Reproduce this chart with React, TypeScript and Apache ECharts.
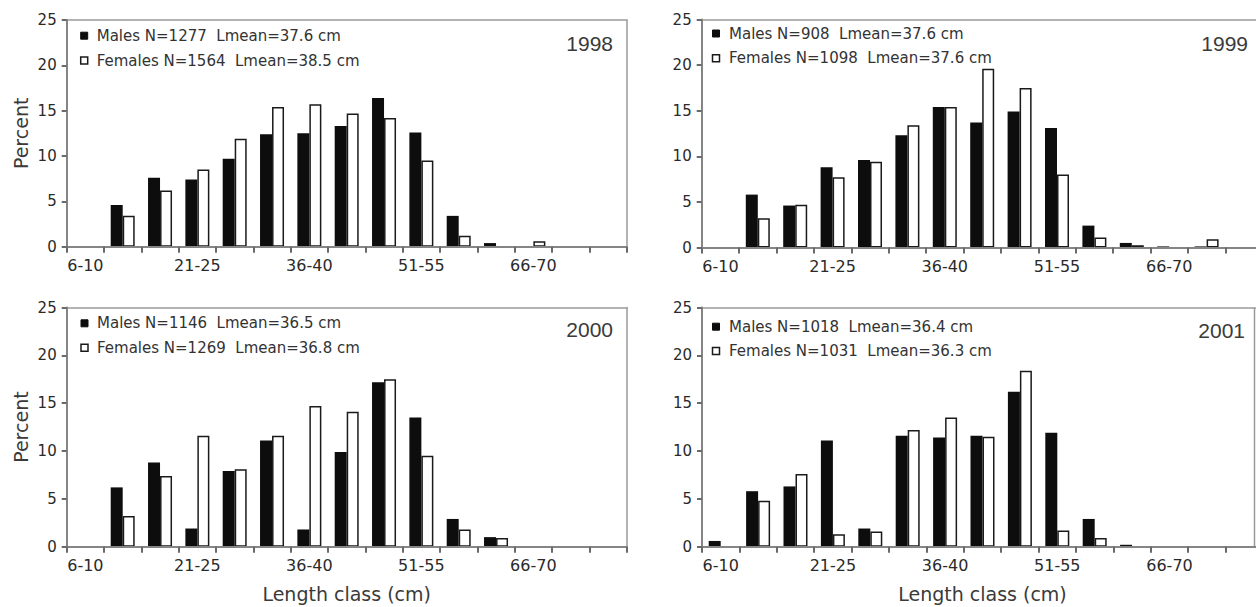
import React, { useEffect, useRef } from "react";
import * as echarts from "echarts";

const categories = ["6-10", "11-15", "16-20", "21-25", "26-30", "31-35", "36-40", "41-45", "46-50", "51-55", "56-60", "61-65", "66-70", "71-75", "76-80"];

const years = ["1998", "1999", "2000", "2001"];

const males1998 = [0, 4.6, 7.6, 7.4, 9.7, 12.4, 12.5, 13.3, 16.4, 12.6, 3.4, 0.4, 0, 0, 0];
const females1998 = [0, 3.4, 6.2, 8.5, 11.9, 15.4, 15.7, 14.7, 14.2, 9.5, 1.2, 0, 0.6, 0, 0];
const males1999 = [0, 5.8, 4.6, 8.8, 9.6, 12.3, 15.4, 13.7, 14.9, 13.1, 2.4, 0.5, 0.12, 0.12, 0];
const females1999 = [0, 3.2, 4.7, 7.7, 9.4, 13.4, 15.4, 19.6, 17.5, 8.0, 1.1, 0.25, 0, 0.9, 0];
const males2000 = [0, 6.2, 8.8, 1.9, 7.9, 11.1, 1.8, 9.9, 17.2, 13.5, 2.9, 1.0, 0, 0, 0];
const females2000 = [0, 3.2, 7.4, 11.6, 8.1, 11.6, 14.7, 14.1, 17.5, 9.5, 1.8, 0.9, 0, 0, 0];
const males2001 = [0.6, 5.8, 6.3, 11.1, 1.9, 11.6, 11.4, 11.6, 16.2, 11.9, 2.9, 0.2, 0, 0, 0];
const females2001 = [0, 4.8, 7.6, 1.3, 1.6, 12.2, 13.5, 11.5, 18.4, 1.7, 0.9, 0, 0, 0, 0];

const maleLabels = [
  "Males N=1277  Lmean=37.6 cm",
  "Males N=908  Lmean=37.6 cm",
  "Males N=1146  Lmean=36.5 cm",
  "Males N=1018  Lmean=36.4 cm",
];
const femaleLabels = [
  "Females N=1564  Lmean=38.5 cm",
  "Females N=1098  Lmean=37.6 cm",
  "Females N=1269  Lmean=36.8 cm",
  "Females N=1031  Lmean=36.3 cm",
];

const yTickMax = 25;
const yTickStep = 5;
const yAxisName = "Percent";
const xAxisName = "Length class (cm)";

export default function App() {
  const ref = useRef<HTMLDivElement>(null);

  useEffect(() => {
    if (!ref.current) return;
    const chart = echarts.init(ref.current, null, { renderer: "svg" });

    const maleData = [males1998, males1999, males2000, males2001];
    const femaleData = [females1998, females1999, females2000, females2001];
    const noZero = (arr: number[]) => arr.map((v) => (v === 0 ? "-" : v));

    const grids = [
      { left: 66.7, top: 20, width: 560, height: 226.7 },
      { left: 701.7, top: 19.5, width: 561, height: 228 },
      { left: 66.7, top: 307.5, width: 560, height: 239.2 },
      { left: 702, top: 307.5, width: 561, height: 239.2 },
    ];
    const legendPos = [
      { mx: 80.7, tx: 96.7, y1: 35.7, y2: 60.5 },
      { mx: 712.5, tx: 729, y1: 33.5, y2: 58.3 },
      { mx: 81, tx: 97, y1: 323.3, y2: 347.7 },
      { mx: 712.5, tx: 729, y1: 326.7, y2: 351 },
    ];
    const yearPos = [
      { x: 613, y: 43 },
      { x: 1248, y: 43.3 },
      { x: 613, y: 329.3 },
      { x: 1245, y: 330 },
    ];

    const axisGray = "#858585";
    const tickGray = "#6a6a6a";
    const textColor = "#2a2a2a";
    const font = "DejaVu Sans";

    const option: any = {
      animation: false,
      backgroundColor: "#ffffff",
      grid: grids.map((g) => ({
        ...g,
        show: false,
        containLabel: false,
      })),
      xAxis: [
        ...grids.map((_, i) => ({
          type: "category",
          gridIndex: i,
          data: categories,
          position: "bottom",
          z: 10,
          axisLine: { show: true, onZero: false, lineStyle: { color: axisGray, width: 2 } },
          axisTick: { show: true, inside: false, interval: 0, length: 6, lineStyle: { color: tickGray, width: 2 } },
          axisLabel: {
            interval: 2,
            margin: 11,
            color: textColor,
            fontSize: 16,
            fontFamily: font,
          },
          name: i >= 2 ? xAxisName : "",
          nameLocation: "middle",
          nameGap: 38,
          nameTextStyle: { fontSize: 19, fontFamily: font, color: "#3a3a3a" },
          splitLine: { show: false },
        })),
        ...grids.map((_, i) => ({
          type: "category",
          gridIndex: i,
          data: categories,
          position: "top",
          axisLine: { show: true, onZero: false, lineStyle: { color: "#9a9a9a", width: 1.5 } },
          axisTick: { show: false },
          axisLabel: { show: false },
          splitLine: { show: false },
        })),
      ],
      yAxis: [
        ...grids.map((_, i) => ({
          type: "value",
          gridIndex: i,
          position: "left",
          min: 0,
          max: yTickMax,
          interval: yTickStep,
          z: 10,
          axisLine: { show: true, onZero: false, lineStyle: { color: axisGray, width: 2 } },
          axisTick: { show: true, inside: false, length: 5, lineStyle: { color: tickGray, width: 2 } },
          axisLabel: {
            margin: 10,
            color: textColor,
            fontSize: 15,
            fontFamily: font,
          },
          splitLine: { show: false },
          name: i % 2 === 0 ? yAxisName : "",
          nameLocation: "middle",
          nameGap: 36,
          nameTextStyle: { fontSize: 19, fontFamily: font, color: "#3a3a3a" },
        })),
        ...grids.map((_, i) => ({
          type: "value",
          gridIndex: i,
          position: "right",
          min: 0,
          max: yTickMax,
          interval: yTickStep,
          axisLine: { show: true, onZero: false, lineStyle: { color: "#9a9a9a", width: 1.5 } },
          axisTick: { show: false },
          axisLabel: { show: false },
          splitLine: { show: false },
        })),
      ],
      series: [
        ...maleData.map((d, i) => ({
          type: "bar",
          name: "Males " + years[i],
          xAxisIndex: i,
          yAxisIndex: i,
          data: noZero(d),
          barWidth: 12,
          barGap: "0%",
          itemStyle: { color: "#0d0d0d" },
        })),
        ...femaleData.map((d, i) => ({
          type: "bar",
          name: "Females " + years[i],
          xAxisIndex: i,
          yAxisIndex: i,
          data: noZero(d),
          barWidth: 12,
          barGap: "0%",
          itemStyle: { color: "#ffffff", borderColor: "#1a1a1a", borderWidth: 1.5 },
        })),
      ],
      graphic: [
        ...legendPos.flatMap((p, i) => [
          {
            type: "rect",
            shape: { x: p.mx, y: p.y1 - 3.5, width: 7, height: 7 },
            style: { fill: "#0d0d0d", stroke: "#0d0d0d", lineWidth: 1 },
          },
          {
            type: "text",
            x: p.tx,
            y: p.y1,
            style: {
              text: maleLabels[i],
              fill: "#333333",
              fontSize: 15,
              fontFamily: font,
              verticalAlign: "middle",
              align: "left",
            },
          },
          {
            type: "rect",
            shape: { x: p.mx, y: p.y2 - 3.5, width: 7, height: 7 },
            style: { fill: "#ffffff", stroke: "#1a1a1a", lineWidth: 1.5 },
          },
          {
            type: "text",
            x: p.tx,
            y: p.y2,
            style: {
              text: femaleLabels[i],
              fill: "#333333",
              fontSize: 15,
              fontFamily: font,
              verticalAlign: "middle",
              align: "left",
            },
          },
        ]),
        ...yearPos.map((p, i) => ({
          type: "text",
          x: p.x,
          y: p.y,
          style: {
            text: years[i],
            fill: "#3a3a3a",
            fontSize: 21,
            fontFamily: "Liberation Sans",
            verticalAlign: "middle",
            align: "right",
          },
        })),
        {
          type: "line",
          shape: { x1: 1254.5, y1: 308, x2: 1254.5, y2: 546.7 },
          style: { stroke: "#9a9a9a", lineWidth: 1.5 },
        },
      ],
    };

    chart.setOption(option);
    return () => chart.dispose();
  }, []);

  return (
    <div
      ref={ref}
      style={{ position: "fixed", left: 0, top: 0, width: 1270, height: 607, background: "#fff" }}
    />
  );
}
